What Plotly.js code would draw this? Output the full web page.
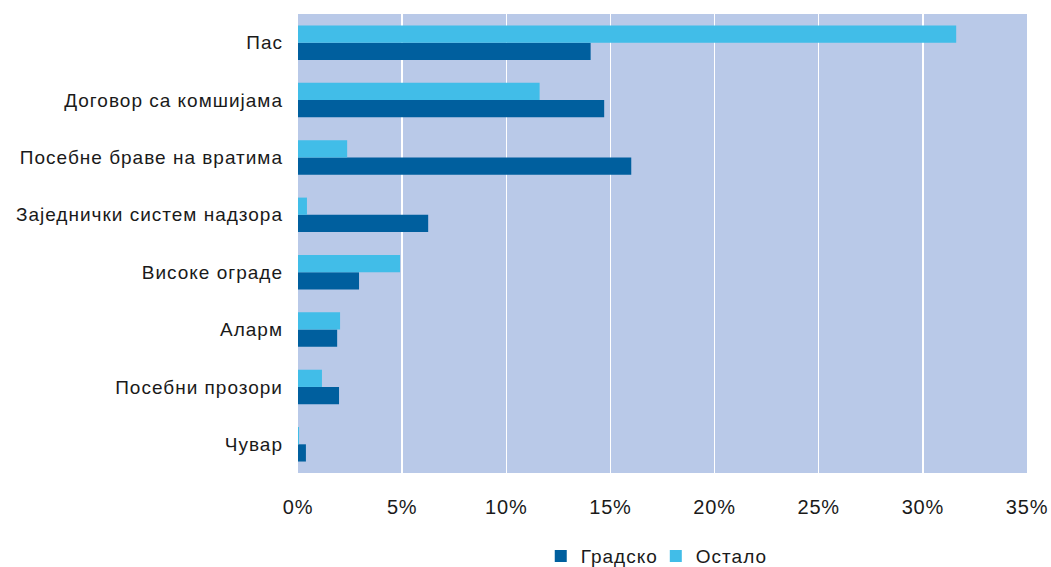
<!DOCTYPE html>
<html><head><meta charset="utf-8">
<script src="https://cdn.plot.ly/plotly-3.0.1.min.js"></script>
<style>body{margin:0;background:#fff}#c{width:1051px;height:567px}
#c .ytick text, #c .legendtext{letter-spacing:1px}
#c .xtick text{letter-spacing:0.8px}
</style>
</head><body><div id="c"></div>
<script>
const categories = ["Чувар","Посебни прозори","Аларм","Високе ограде","Заједнички систем надзора","Посебне браве на вратима","Договор са комшијама","Пас"];
const gradsko = [0.38, 1.97, 1.88, 2.93, 6.25, 16.0, 14.7, 14.05];
const ostalo  = [0.05, 1.15, 2.02, 4.9, 0.43, 2.36, 11.6, 31.6];
const xTicks = [0,5,10,15,20,25,30,35];
const xTickText = ["0%","5%","10%","15%","20%","25%","30%","35%"];

const traces = [
  {type:"bar", orientation:"h", name:"Градско", y:categories, x:gradsko, marker:{color:"#005f9e"}},
  {type:"bar", orientation:"h", name:"Остало", y:categories, x:ostalo, marker:{color:"#41bde8"}}
];
const layout = {
  width:1051, height:567,
  margin:{l:298, r:24, t:14, b:94, autoexpand:false},
  paper_bgcolor:"#ffffff", plot_bgcolor:"#b9c9e8",
  font:{family:"Liberation Sans, Arial, sans-serif", size:19, color:"#1a1a1a"},
  barmode:"group", bargap:0.4, bargroupgap:0,
  showlegend:true,
  legend:{orientation:"h", x:0.488, xanchor:"center", y:-0.181, yanchor:"middle", font:{size:19}, itemwidth:30, traceorder:"normal"},
  xaxis:{range:[0,35], tickvals:xTicks, ticktext:xTickText, showgrid:true, gridcolor:"#ffffff", gridwidth:1.3, zeroline:false, ticks:"", ticklabelstandoff:20, fixedrange:true, automargin:false, tickfont:{size:20}},
  yaxis:{type:"category", categoryorder:"array", categoryarray:categories, showgrid:false, zeroline:false, ticks:"", ticklabelstandoff:14, automargin:false}
};
Plotly.newPlot("c", traces, layout, {displayModeBar:false, staticPlot:true});
</script></body></html>
